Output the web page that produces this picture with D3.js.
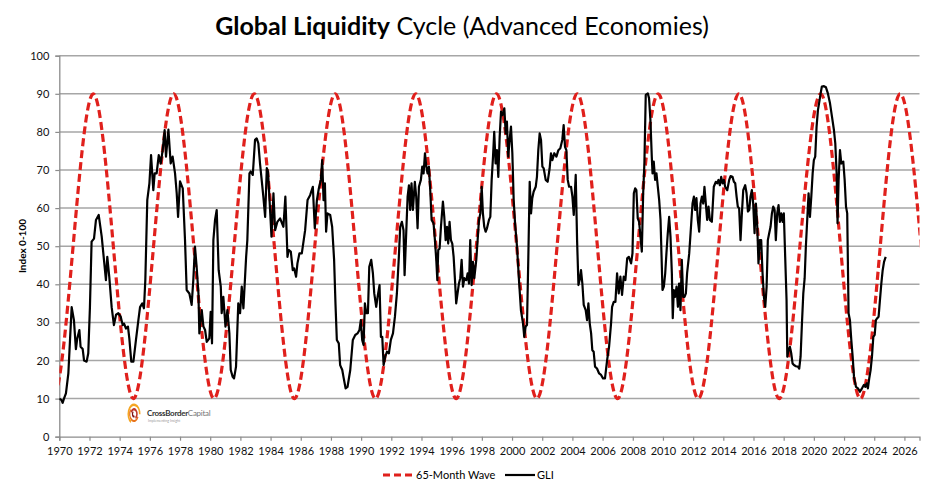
<!DOCTYPE html>
<html>
<head>
<meta charset="utf-8">
<script src="https://cdn.jsdelivr.net/npm/d3@7"></script>
<style>
  body { margin: 0; background: #fff; }
  svg { font-family: Lato, "Open Sans", sans-serif; }
</style>
</head>
<body>
<svg id="chart" width="932" height="492"></svg>
<script>
// axis ticks
var yTicks = [0, 10, 20, 30, 40, 50, 60, 70, 80, 90, 100];
var xTicks = [1970, 1972, 1974, 1976, 1978, 1980, 1982, 1984, 1986, 1988, 1990, 1992, 1994, 1996, 1998,
    2000, 2002, 2004, 2006, 2008, 2010, 2012, 2014, 2016, 2018, 2020, 2022, 2024, 2026];

// 65-month wave: turning points (troughs at 10, peaks at 90)
var waveYears = [1966.92, 1969.58, 1972.25, 1974.91, 1977.58, 1980.25, 1982.92, 1985.58, 1988.28, 1990.95,
    1993.62, 1996.30, 1998.97, 2001.65, 2004.32, 2006.99, 2009.68, 2012.34, 2015.03, 2017.70,
    2020.45, 2023.08, 2025.72, 2028.50, 2031.20];
var waveValues = [90, 10, 90, 10, 90, 10, 90, 10, 90, 10,
    90, 10, 90, 10, 90, 10, 90, 10, 90, 10,
    90, 10, 90, 10, 90];

// GLI index
var gliYears = [
    1970.00, 1970.15, 1970.22, 1970.31, 1970.44, 1970.60, 1970.71, 1970.82, 1970.97, 1971.10,
    1971.19, 1971.33, 1971.41, 1971.55, 1971.64, 1971.81, 1971.92, 1972.03, 1972.14, 1972.30,
    1972.43, 1972.61, 1972.81, 1972.96, 1973.09, 1973.18, 1973.31, 1973.47, 1973.62, 1973.76,
    1973.91, 1974.07, 1974.20, 1974.29, 1974.42, 1974.55, 1974.64, 1974.77, 1974.91, 1975.08,
    1975.24, 1975.35, 1975.50, 1975.61, 1975.70, 1975.83, 1975.97, 1976.08, 1976.23, 1976.32,
    1976.45, 1976.59, 1976.72, 1976.85, 1976.98, 1977.07, 1977.23, 1977.38, 1977.51, 1977.67,
    1977.78, 1977.87, 1978.00, 1978.18, 1978.33, 1978.44, 1978.62, 1978.77, 1978.88, 1978.99,
    1979.10, 1979.22, 1979.28, 1979.44, 1979.55, 1979.66, 1979.77, 1979.94, 1980.03, 1980.12,
    1980.21, 1980.32, 1980.43, 1980.56, 1980.70, 1980.76, 1980.87, 1981.01, 1981.14, 1981.27,
    1981.36, 1981.49, 1981.58, 1981.71, 1981.86, 1981.98, 1982.09, 1982.20, 1982.38, 1982.46,
    1982.60, 1982.68, 1982.82, 1982.97, 1983.08, 1983.19, 1983.30, 1983.41, 1983.52, 1983.64,
    1983.75, 1983.83, 1983.92, 1984.06, 1984.19, 1984.30, 1984.45, 1984.63, 1984.85, 1984.98,
    1985.12, 1985.20, 1985.34, 1985.47, 1985.56, 1985.69, 1985.78, 1985.91, 1986.07, 1986.29,
    1986.36, 1986.45, 1986.62, 1986.80, 1986.93, 1987.07, 1987.20, 1987.33, 1987.42, 1987.51,
    1987.60, 1987.68, 1987.77, 1987.95, 1988.08, 1988.21, 1988.30, 1988.39, 1988.52, 1988.61,
    1988.75, 1988.83, 1988.97, 1989.10, 1989.28, 1989.45, 1989.61, 1989.76, 1989.89, 1989.98,
    1990.07, 1990.16, 1990.25, 1990.34, 1990.45, 1990.54, 1990.67, 1990.78, 1990.87, 1991.00,
    1991.09, 1991.22, 1991.31, 1991.40, 1991.49, 1991.60, 1991.71, 1991.84, 1991.97, 1992.11,
    1992.24, 1992.37, 1992.50, 1992.59, 1992.70, 1992.81, 1992.88, 1992.97, 1993.08, 1993.17,
    1993.25, 1993.34, 1993.43, 1993.56, 1993.65, 1993.74, 1993.83, 1993.96, 1994.05, 1994.14,
    1994.23, 1994.32, 1994.40, 1994.49, 1994.58, 1994.67, 1994.80, 1994.89, 1994.98, 1995.05,
    1995.11, 1995.20, 1995.29, 1995.42, 1995.51, 1995.60, 1995.69, 1995.77, 1995.86, 1995.95,
    1996.04, 1996.13, 1996.22, 1996.30, 1996.39, 1996.48, 1996.57, 1996.66, 1996.75, 1996.84,
    1996.97, 1997.06, 1997.15, 1997.23, 1997.32, 1997.41, 1997.50, 1997.63, 1997.72, 1997.81,
    1997.90, 1997.99, 1998.07, 1998.16, 1998.25, 1998.34, 1998.47, 1998.56, 1998.65, 1998.74,
    1998.82, 1998.91, 1999.00, 1999.09, 1999.18, 1999.27, 1999.36, 1999.49, 1999.58, 1999.66,
    1999.75, 1999.84, 1999.93, 2000.02, 2000.11, 2000.20, 2000.33, 2000.46, 2000.59, 2000.73,
    2000.81, 2000.90, 2000.99, 2001.08, 2001.17, 2001.26, 2001.34, 2001.43, 2001.57, 2001.65,
    2001.74, 2001.83, 2001.92, 2002.01, 2002.10, 2002.23, 2002.36, 2002.49, 2002.58, 2002.67,
    2002.80, 2002.94, 2003.07, 2003.20, 2003.33, 2003.42, 2003.51, 2003.60, 2003.69, 2003.78,
    2003.91, 2004.00, 2004.09, 2004.22, 2004.31, 2004.40, 2004.48, 2004.57, 2004.66, 2004.75,
    2004.88, 2004.97, 2005.06, 2005.15, 2005.24, 2005.32, 2005.41, 2005.50, 2005.63, 2005.77,
    2005.90, 2006.03, 2006.16, 2006.30, 2006.43, 2006.56, 2006.63, 2006.74, 2006.85, 2006.96,
    2007.07, 2007.18, 2007.29, 2007.40, 2007.51, 2007.63, 2007.74, 2007.89, 2007.98, 2008.07,
    2008.16, 2008.24, 2008.33, 2008.42, 2008.51, 2008.60, 2008.69, 2008.77, 2008.86, 2009.00,
    2009.08, 2009.17, 2009.26, 2009.31, 2009.39, 2009.48, 2009.57, 2009.66, 2009.75, 2009.84,
    2009.97, 2010.06, 2010.15, 2010.23, 2010.32, 2010.41, 2010.50, 2010.59, 2010.65, 2010.72,
    2010.81, 2010.90, 2010.99, 2011.07, 2011.16, 2011.25, 2011.34, 2011.43, 2011.52, 2011.60,
    2011.74, 2011.83, 2011.96, 2012.05, 2012.13, 2012.22, 2012.31, 2012.40, 2012.49, 2012.58,
    2012.67, 2012.75, 2012.84, 2012.93, 2013.02, 2013.11, 2013.24, 2013.37, 2013.50, 2013.59,
    2013.68, 2013.77, 2013.86, 2013.95, 2014.04, 2014.12, 2014.26, 2014.39, 2014.48, 2014.61,
    2014.70, 2014.79, 2014.88, 2014.96, 2015.05, 2015.14, 2015.23, 2015.32, 2015.45, 2015.54,
    2015.63, 2015.72, 2015.80, 2015.89, 2015.98, 2016.07, 2016.16, 2016.25, 2016.33, 2016.42,
    2016.51, 2016.60, 2016.69, 2016.78, 2016.87, 2016.95, 2017.04, 2017.13, 2017.22, 2017.31,
    2017.40, 2017.48, 2017.57, 2017.66, 2017.75, 2017.84, 2017.93, 2018.01, 2018.10, 2018.19,
    2018.24, 2018.32, 2018.41, 2018.50, 2018.59, 2018.68, 2018.81, 2018.94, 2019.03, 2019.12,
    2019.21, 2019.30, 2019.39, 2019.47, 2019.56, 2019.65, 2019.74, 2019.83, 2019.92, 2020.00,
    2020.09, 2020.18, 2020.27, 2020.36, 2020.45, 2020.53, 2020.67, 2020.80, 2020.93, 2021.07,
    2021.20, 2021.33, 2021.42, 2021.51, 2021.57, 2021.64, 2021.73, 2021.82, 2021.95, 2022.04,
    2022.13, 2022.21, 2022.30, 2022.39, 2022.48, 2022.57, 2022.66, 2022.79, 2022.92, 2023.05,
    2023.19, 2023.32, 2023.41, 2023.50, 2023.58, 2023.67, 2023.76, 2023.85, 2023.94, 2024.03,
    2024.11, 2024.20, 2024.29, 2024.38, 2024.47, 2024.56, 2024.65, 2024.76];
var gliValues = [
    10.0, 9.6, 8.9, 10.0, 11.4, 16.6, 25.4, 34.0, 30.6, 23.0,
    25.8, 28.0, 23.6, 23.0, 20.0, 19.7, 21.9, 34.0, 51.2, 52.0,
    56.9, 58.2, 52.5, 46.4, 41.1, 47.2, 42.0, 34.0, 29.3, 32.0,
    32.4, 31.5, 29.3, 29.7, 28.4, 28.9, 25.8, 19.7, 19.7, 25.4,
    30.6, 34.0, 35.0, 33.7, 41.1, 62.1, 66.5, 73.9, 64.7, 69.1,
    69.1, 73.9, 71.7, 75.2, 80.5, 73.5, 80.6, 71.7, 73.5, 69.1,
    63.9, 57.7, 67.0, 65.2, 51.6, 38.5, 37.6, 34.6, 41.1, 49.9,
    44.6, 37.6, 27.1, 33.2, 28.9, 28.0, 24.9, 25.8, 32.8, 24.5,
    51.6, 56.9, 59.5, 43.7, 39.4, 32.4, 36.7, 28.9, 33.2, 27.1,
    17.5, 15.7, 15.3, 18.4, 35.0, 32.4, 39.4, 33.7, 47.2, 51.6,
    69.1, 69.6, 68.7, 77.9, 78.3, 77.0, 71.7, 67.4, 63.0, 57.7,
    70.5, 69.6, 63.0, 52.5, 63.9, 54.2, 56.4, 57.3, 55.1, 63.0,
    47.2, 49.0, 48.6, 43.7, 44.2, 42.0, 45.5, 48.1, 48.1, 54.2,
    57.7, 62.1, 63.4, 65.6, 54.7, 62.1, 65.2, 67.4, 72.6, 62.1,
    66.5, 53.8, 58.6, 58.2, 55.1, 46.4, 35.0, 25.4, 24.5, 18.8,
    17.5, 15.7, 12.7, 13.1, 17.5, 25.4, 26.7, 27.1, 28.0, 30.6,
    25.4, 24.1, 35.0, 32.4, 32.4, 44.6, 46.4, 42.9, 37.6, 34.1,
    36.7, 39.8, 26.2, 26.2, 18.8, 21.0, 22.3, 21.9, 25.4, 27.1,
    31.5, 37.6, 47.2, 55.1, 56.4, 54.2, 42.4, 51.6, 63.0, 66.0,
    59.5, 66.5, 59.5, 66.9, 63.0, 54.7, 65.6, 67.4, 70.9, 69.1,
    74.4, 70.9, 69.1, 70.9, 64.7, 56.9, 56.0, 51.6, 46.4, 41.1,
    49.0, 49.4, 55.1, 61.7, 57.7, 51.6, 55.1, 50.7, 56.4, 51.6,
    50.7, 47.2, 41.1, 35.0, 37.6, 40.2, 41.6, 46.4, 39.4, 41.6,
    41.1, 42.9, 40.2, 51.6, 39.8, 45.9, 41.6, 46.4, 51.6, 56.9,
    58.6, 65.6, 58.6, 55.1, 53.8, 54.7, 56.9, 57.7, 67.4, 73.5,
    80.0, 71.7, 75.2, 68.2, 78.7, 85.3, 84.4, 86.2, 79.6, 82.7,
    73.5, 77.9, 81.4, 74.4, 62.1, 56.0, 49.9, 41.1, 33.2, 29.7,
    26.2, 28.9, 29.3, 47.2, 66.9, 58.6, 62.6, 64.3, 65.6, 68.2,
    75.2, 79.6, 77.9, 70.9, 70.4, 67.4, 66.9, 70.4, 74.4, 72.6,
    74.4, 73.5, 75.2, 75.7, 77.9, 81.8, 76.1, 75.2, 67.4, 65.6,
    65.6, 63.0, 58.2, 68.7, 51.6, 39.8, 41.1, 43.7, 40.2, 34.6,
    33.2, 30.6, 35.0, 29.7, 27.1, 22.7, 22.3, 18.4, 17.9, 16.6,
    16.2, 15.3, 15.3, 20.1, 23.6, 29.7, 34.1, 35.4, 35.4, 42.9,
    37.6, 42.0, 37.2, 42.0, 41.1, 46.8, 47.2, 45.5, 48.1, 63.9,
    65.2, 64.7, 57.3, 56.4, 52.5, 48.6, 63.9, 71.7, 89.7, 90.1,
    88.8, 83.1, 73.5, 69.1, 72.2, 67.4, 69.1, 65.6, 62.1, 56.9,
    38.5, 39.4, 42.9, 48.1, 53.4, 57.7, 52.5, 42.9, 31.1, 38.5,
    36.7, 39.4, 34.1, 40.2, 33.2, 46.4, 36.7, 36.7, 37.6, 42.9,
    48.1, 53.4, 61.2, 63.0, 59.5, 62.6, 56.9, 53.8, 61.2, 63.0,
    61.2, 65.6, 61.2, 56.9, 60.4, 56.9, 56.4, 65.6, 66.9, 66.5,
    67.4, 66.0, 68.2, 66.5, 67.4, 65.6, 64.7, 67.4, 68.4, 68.2,
    66.9, 66.5, 63.0, 60.4, 59.9, 51.6, 58.6, 64.7, 66.0, 63.9,
    59.1, 59.5, 63.0, 64.7, 61.2, 53.4, 61.2, 55.1, 45.5, 51.6,
    51.6, 42.9, 36.7, 34.1, 39.4, 51.6, 53.4, 55.1, 58.6, 60.4,
    59.5, 51.6, 58.6, 60.8, 56.4, 58.6, 56.4, 58.6, 47.2, 35.9,
    21.0, 22.7, 23.6, 21.9, 19.2, 18.8, 18.5, 18.4, 17.9, 21.0,
    29.7, 37.6, 41.6, 49.9, 56.9, 63.9, 57.7, 63.0, 69.1, 72.6,
    73.5, 81.4, 85.7, 87.9, 90.1, 91.9, 92.0, 91.7, 90.1, 87.5,
    84.0, 80.5, 77.0, 69.1, 56.0, 67.4, 75.2, 71.7, 72.2, 67.4,
    60.4, 58.6, 32.4, 30.6, 25.4, 21.0, 15.7, 13.1, 12.7, 11.8,
    12.7, 13.6, 13.1, 14.0, 12.7, 15.3, 17.5, 21.0, 26.2, 26.7,
    30.6, 31.1, 31.5, 35.9, 40.2, 43.7, 45.9, 47.2];

var waveColor = "#e0201c";
var gridColor = "#a6a6a6";

var svg = d3.select("#chart");

var x = d3.scaleLinear().domain([1970, 2027]).range([59.3, 919.5]);
var y = d3.scaleLinear().domain([0, 100]).range([436.7, 55.7]);

// title
var title = svg.append("text")
    .attr("x", 462)
    .attr("y", 35)
    .attr("text-anchor", "middle")
    .attr("font-size", 25)
    .attr("fill", "#000");
title.append("tspan").attr("font-weight", "bold").text("Global Liquidity");
title.append("tspan").text(" Cycle (Advanced Economies)");

// gridlines
svg.append("g")
    .selectAll("line")
    .data(yTicks.filter(function (d) { return d > 0; }))
    .enter().append("line")
    .attr("x1", x(1970))
    .attr("x2", x(2027))
    .attr("y1", function (d) { return y(d); })
    .attr("y2", function (d) { return y(d); })
    .attr("stroke", gridColor)
    .attr("stroke-width", 1.5);

// axes
var yAxis = svg.append("g")
    .attr("transform", "translate(" + x(1970) + ",0)")
    .call(d3.axisLeft(y).tickValues(yTicks).tickSize(4).tickPadding(6));

var xAxis = svg.append("g")
    .attr("transform", "translate(0," + y(0) + ")")
    .call(d3.axisBottom(x).tickValues(xTicks).tickFormat(d3.format("d")).tickSize(4).tickPadding(7));

[yAxis, xAxis].forEach(function (g) {
    g.select(".domain").attr("stroke", "#8c8c8c").attr("stroke-width", 1.3);
    g.selectAll(".tick line").attr("stroke", "#8c8c8c").attr("stroke-width", 1.2);
    g.selectAll(".tick text")
        .attr("font-family", "Lato, sans-serif")
        .attr("font-size", 11)
        .attr("fill", "#111");
});

svg.append("text")
    .attr("transform", "translate(25.5,246) rotate(-90)")
    .attr("text-anchor", "middle")
    .attr("font-size", 10)
    .attr("font-weight", "bold")
    .text("Index 0-100");

// clip for the series
svg.append("clipPath")
    .attr("id", "plot-clip")
    .append("rect")
    .attr("x", x(1970))
    .attr("y", y(100) - 10)
    .attr("width", x(2027) - x(1970))
    .attr("height", y(0) - y(100) + 20);

var wave = waveYears.map(function (d, i) { return [d, waveValues[i]]; });
var gli = gliYears.map(function (d, i) { return [d, gliValues[i]]; });

var waveLine = d3.line()
    .x(function (d) { return x(d[0]); })
    .y(function (d) { return y(d[1]); })
    .curve(d3.curveMonotoneX);

var gliLine = d3.line()
    .x(function (d) { return x(d[0]); })
    .y(function (d) { return y(d[1]); });

var series = svg.append("g").attr("clip-path", "url(#plot-clip)");

series.append("path")
    .datum(wave)
    .attr("d", waveLine)
    .attr("fill", "none")
    .attr("stroke", waveColor)
    .attr("stroke-width", 3.2)
    .attr("stroke-dasharray", "8,4");

series.append("path")
    .datum(gli)
    .attr("d", gliLine)
    .attr("fill", "none")
    .attr("stroke", "#000")
    .attr("stroke-width", 2.2)
    .attr("stroke-linejoin", "round");

// logo
var logo = svg.append("g").attr("transform", "translate(134,414)");
var arc = d3.arc();
var logoArcs = [
    { innerRadius: 8, outerRadius: 10.5, startAngle: -2.6, endAngle: 1.6, color: "#f5a623" },
    { innerRadius: 6, outerRadius: 8, startAngle: 2.0, endAngle: 5.4, color: "#e8731a" },
    { innerRadius: 3.5, outerRadius: 6, startAngle: -1.2, endAngle: 2.6, color: "#c0392b" },
    { innerRadius: 1.5, outerRadius: 3.5, startAngle: 2.8, endAngle: 5.8, color: "#7b1111" }
];
logo.selectAll("path")
    .data(logoArcs)
    .enter().append("path")
    .attr("d", function (d) { return arc(d); })
    .attr("transform", "scale(0.62,1)")
    .attr("fill", function (d) { return d.color; });

var logoText = svg.append("text")
    .attr("x", 147)
    .attr("y", 416)
    .attr("font-size", 8)
    .attr("letter-spacing", -0.3);
logoText.append("tspan").attr("fill", "#333").attr("font-weight", "bold").text("CrossBorder");
logoText.append("tspan").attr("fill", "#777").text("Capital");
svg.append("text")
    .attr("x", 148)
    .attr("y", 421.5)
    .attr("font-size", 3.5)
    .attr("fill", "#999")
    .text("Implementing Insight");

// legend
var legend = svg.append("g").attr("transform", "translate(0,475)");
legend.append("line")
    .attr("x1", 383).attr("x2", 413)
    .attr("stroke", waveColor)
    .attr("stroke-width", 3)
    .attr("stroke-dasharray", "7,4");
legend.append("text")
    .attr("x", 416).attr("dy", "0.35em")
    .attr("font-size", 11)
    .text("65-Month Wave");
legend.append("line")
    .attr("x1", 505).attr("x2", 535)
    .attr("stroke", "#000")
    .attr("stroke-width", 2.2);
legend.append("text")
    .attr("x", 537).attr("dy", "0.35em")
    .attr("font-size", 11)
    .text("GLI");
</script>
</body>
</html>
